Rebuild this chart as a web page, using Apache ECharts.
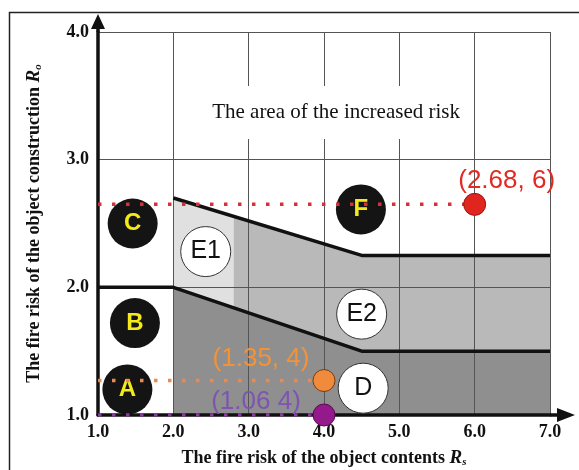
<!DOCTYPE html>
<html><head><meta charset="utf-8">
<script src="https://cdn.jsdelivr.net/npm/echarts@6/dist/echarts.min.js"></script>
<style>html,body{margin:0;padding:0;background:#fff}#c{width:579px;height:470px}</style>
</head><body><div id="c"></div>
<script>
// ---- data ----
const xMin = 1, xMax = 7, yMin = 1, yMax = 4;
const upperBoundary = [[2.0, 2.7], [4.5, 2.25], [7.0, 2.25]];
const lowerBoundary = [[1.0, 2.0], [2.0, 2.0], [4.5, 1.5], [7.0, 1.5]];
const lightZone = [[2.0, 2.0], [2.0, 2.7], [2.8, 2.556], [2.8, 1.84]];
const mediumZone = [[2.8, 1.84], [2.8, 2.556], [4.5, 2.25], [7.0, 2.25], [7.0, 1.5], [4.5, 1.5]];
const darkZone = [[2.0, 1.0], [2.0, 2.0], [4.5, 1.5], [7.0, 1.5], [7.0, 1.0]];
const darkCircleNames = ['A', 'B', 'C', 'F'];
const darkCircleX = [1.39, 1.49, 1.46, 4.49];
const darkCircleY = [1.2, 1.72, 2.5, 2.61];
const whiteCircleNames = ['E1', 'E2', 'D'];
const whiteCircleX = [2.43, 4.5, 4.52];
const whiteCircleY = [2.28, 1.79, 1.21];
const pointNames = ['(2.68, 6)', '(1.35, 4)', '(1.06 4)'];
const pointX = [6.0, 4.0, 4.0];
const pointY = [2.65, 1.27, 1.0];
const areaTitle = 'The area of the increased risk';
const areaTitlePos = [4.16, 3.37];

// ---- styles ----
const zones = [lightZone, mediumZone, darkZone];
const zoneColors = ['#e0e0e0', '#b9b9b9', '#8f8f8f'];
const pointColors = ['#e0251f', '#f08a3c', '#941a8c'];
const pointBorders = ['#a01010', '#7a3a10', '#5a0a50'];
const dotColors = ['#d8303a', '#ea8a50', '#8a3aa0'];
const pointLabelColors = ['#e02a22', '#f59235', '#7d55b0'];
const pointLabelOffsets = [[32, -24], [-63, -22], [-68, -13]];
const serif = '"Liberation Serif", "DejaVu Serif", serif';
const sans = '"Liberation Sans", Arial, sans-serif';

const chart = echarts.init(document.getElementById('c'));

const series = [];
series.push({
  type: 'custom', z: 1, silent: true,
  data: zones.map((z, i) => [z[0][0], z[0][1], i]),
  renderItem: function (params, api) {
    const idx = params.dataIndex;
    const pts = zones[idx].map(p => api.coord(p));
    return { type: 'polygon', shape: { points: pts }, style: { fill: zoneColors[idx] } };
  }
});
[upperBoundary, lowerBoundary].forEach(b => series.push({
  type: 'line', z: 5, data: b, symbol: 'none', silent: true,
  lineStyle: { color: '#111', width: 3.5 }
}));
series.push({
  type: 'scatter', z: 6, symbolSize: 50, silent: true,
  itemStyle: { color: '#141414', opacity: 1 },
  data: darkCircleNames.map((n, i) => ({ name: n, value: [darkCircleX[i], darkCircleY[i]] })),
  label: { show: true, position: 'inside', formatter: '{b}', color: '#f2ea1a', opacity: 1, fontFamily: sans, fontWeight: 'bold', fontSize: 24 }
});
series.push({
  type: 'scatter', z: 6, symbolSize: 50, silent: true,
  itemStyle: { color: '#ffffff', borderColor: '#333', borderWidth: 1, opacity: 1 },
  data: whiteCircleNames.map((n, i) => ({ name: n, value: [whiteCircleX[i], whiteCircleY[i]] })),
  label: { show: true, position: 'inside', formatter: '{b}', color: '#111', opacity: 1, fontFamily: sans, fontSize: 25 }
});
pointNames.forEach((n, i) => series.push({
  type: 'line', z: 7, symbol: 'none', silent: true,
  data: [[xMin, pointY[i]], [pointX[i], pointY[i]]],
  lineStyle: { color: dotColors[i], width: 3.5, type: [3.5, 10.5] }
}));
series.push({
  type: 'scatter', z: 8, symbolSize: 22, silent: true,
  data: pointNames.map((n, i) => ({
    name: n, value: [pointX[i], pointY[i]],
    itemStyle: { color: pointColors[i], borderColor: pointBorders[i], borderWidth: 1, opacity: 1 },
    label: { color: pointLabelColors[i], offset: pointLabelOffsets[i] }
  })),
  label: { show: true, position: 'inside', formatter: '{b}', opacity: 1, fontFamily: sans, fontSize: 26 }
});
series.push({
  type: 'scatter', z: 9, symbolSize: 1, silent: true,
  itemStyle: { color: 'rgba(255,255,255,0)', opacity: 1 },
  data: [{ name: areaTitle, value: areaTitlePos }],
  label: { show: true, position: 'inside', formatter: '{b}', color: '#111', opacity: 1, fontFamily: serif, fontSize: 21,
    backgroundColor: '#ffffff', padding: [16, 12, 16, 12] }
});

const axisCommon = {
  type: 'value', z: 3,
  axisTick: { show: false },
  splitLine: { show: true, lineStyle: { color: '#555', width: 1 } },
  axisLabel: { formatter: v => v.toFixed(1), color: '#111', fontFamily: serif, fontWeight: 'bold', fontSize: 18 },
  nameLocation: 'middle',
  nameTextStyle: {
    color: '#111', fontFamily: serif, fontWeight: 'bold', fontSize: 18,
    rich: {
      i: { fontFamily: serif, fontWeight: 'bold', fontStyle: 'italic', fontSize: 19, color: '#111' },
      sub: { fontFamily: serif, fontWeight: 'bold', fontStyle: 'italic', fontSize: 11, color: '#111', verticalAlign: 'bottom', padding: [9, 0, 0, 0] }
    }
  }
};

chart.setOption({
  animation: false,
  backgroundColor: '#ffffff',
  grid: { left: 98, right: 29, top: 32, bottom: 55, containLabel: false, outerBoundsMode: 'none' },
  xAxis: Object.assign({}, axisCommon, {
    min: xMin, max: xMax, interval: 1,
    name: 'The fire risk of the object contents {i|R}{sub|s}',
    nameGap: 33,
    axisLabel: Object.assign({}, axisCommon.axisLabel, { margin: 8 }),
    axisLine: { show: true, lineStyle: { color: '#111', width: 3.5 },
      symbol: ['none', 'path://M7,0 L14,18 L8.75,18 L8.75,25 L5.25,25 L5.25,18 L0,18 Z'],
      symbolSize: [14, 25], symbolOffset: [0, 12.5] }
  }),
  yAxis: Object.assign({}, axisCommon, {
    min: yMin, max: yMax, interval: 1,
    name: 'The fire risk of the object construction {i|R}{sub|o}',
    nameGap: 54,
    axisLabel: Object.assign({}, axisCommon.axisLabel, { margin: 9 }),
    axisLine: { show: true, lineStyle: { color: '#111', width: 3.5 },
      symbol: ['none', 'path://M7,0 L14,15 L8.75,15 L8.75,18 L5.25,18 L5.25,15 L0,15 Z'],
      symbolSize: [14, 18], symbolOffset: [0, 9] }
  }),
  graphic: [{
    type: 'rect', silent: true, z: 100,
    shape: { x: 9.5, y: 12.5, width: 640, height: 520 },
    style: { fill: 'none', stroke: '#222', lineWidth: 1.5 }
  }],
  series: series
});
</script></body></html>
